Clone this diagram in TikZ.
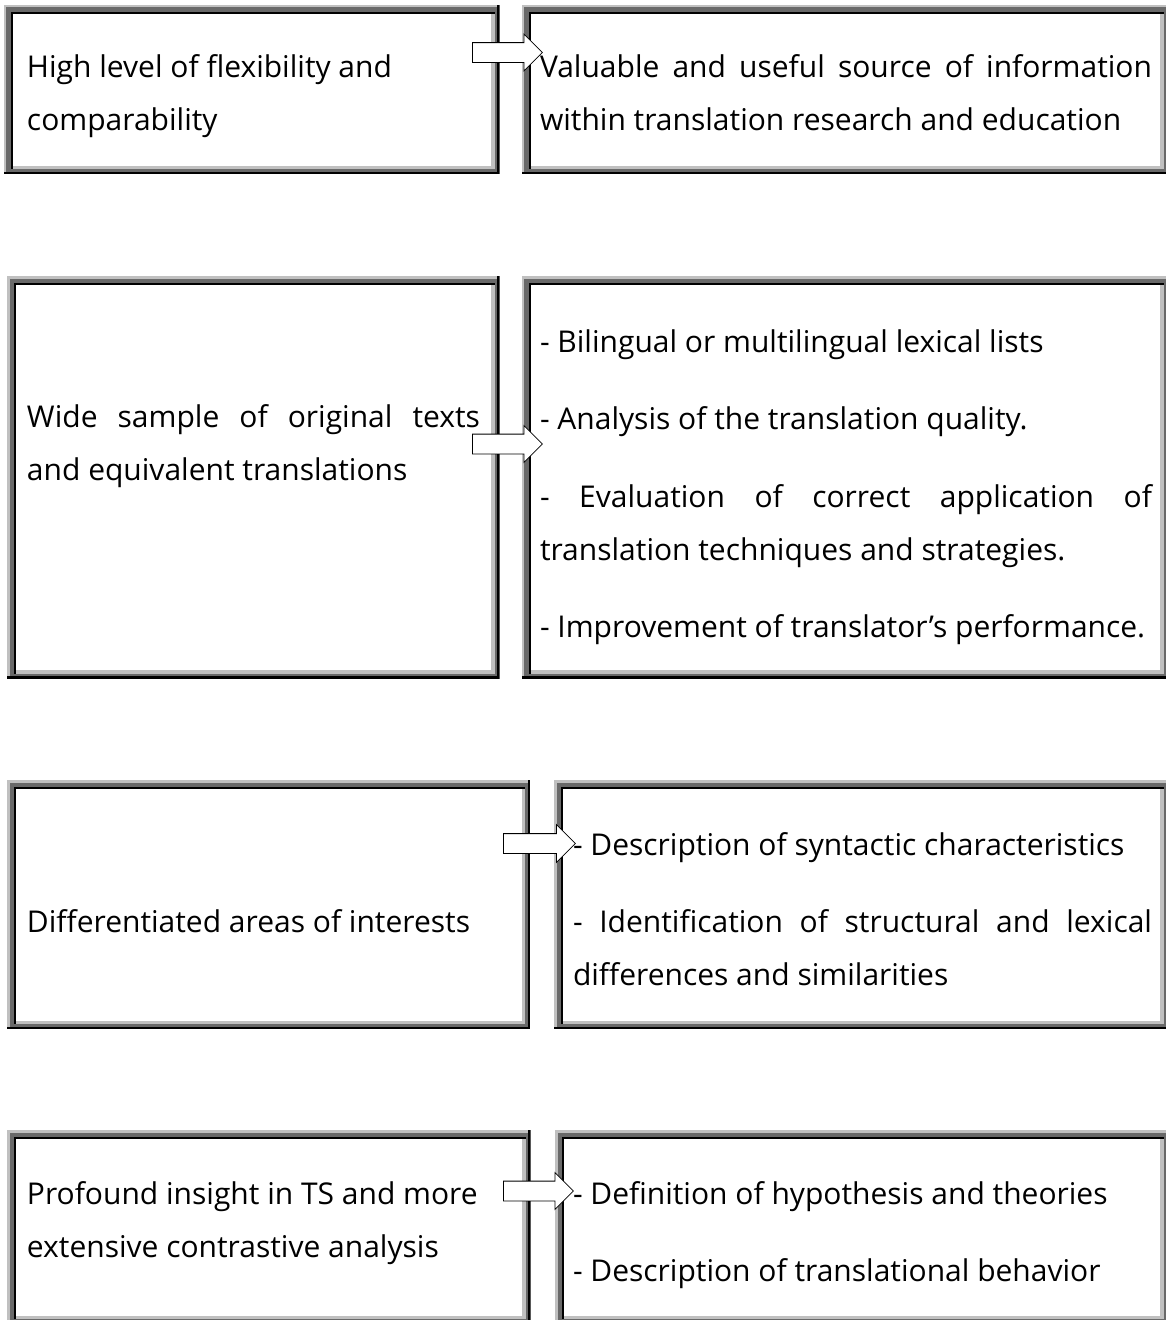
\documentclass[tikz,border=0pt]{standalone}
\usepackage{fontspec}
\setmainfont{Open Sans}
\usetikzlibrary{shapes.arrows}
\definecolor{rimlight}{RGB}{192,192,192}
\definecolor{rimdark}{RGB}{105,105,105}
\newcommand{\boxfont}{\fontsize{30}{53}\selectfont\parindent=0pt}
\tikzset{>=latex}

\begin{document}
\begin{tikzpicture}[x=1pt, y=-1pt]
	\tikzstyle{panel} = [rectangle, inner sep=0pt, outer sep=0pt, anchor=north west,
		path picture={
			\coordinate (nw) at (path picture bounding box.north west);
			\coordinate (se) at (path picture bounding box.south east);
			\fill[black] (nw) rectangle (se);
			\fill[rimlight] (nw) rectangle ([shift={(-2.5pt,2.5pt)}]se);
			\fill[rimdark] ([shift={(2.5pt,-2.5pt)}]nw) rectangle ([shift={(-2.5pt,2.5pt)}]se);
			\fill[black] ([shift={(7pt,-7pt)}]nw) rectangle ([shift={(-5pt,5pt)}]se);
			\fill[rimlight] ([shift={(9pt,-9pt)}]nw) rectangle ([shift={(-5pt,5pt)}]se);
			\fill[white] ([shift={(9pt,-9pt)}]nw) rectangle ([shift={(-8.5pt,8.5pt)}]se);
		}]
	\tikzstyle{txt} = [anchor=base west, inner sep=0pt, outer sep=0pt, align=justify, font=\boxfont]
	\tikzstyle{fatarrow} = [single arrow, draw=black, fill=white, line width=0.8pt, anchor=tail,
		inner xsep=0pt, inner ysep=9.5pt, minimum height=70pt, single arrow head extend=8.5pt]

	\useasboundingbox (0,0) rectangle (1166,1320);

%----------Перший ряд------------------------------
	\node[panel, minimum width=496pt, minimum height=169.5pt] (b1l) at (3.5,4.5) {};
	\node[panel, minimum width=646.8pt, minimum height=169.5pt] (b1r) at (521.7,4.5) {};
	\node[fatarrow] (a1) at (472,52.5) {};

	\node[txt, text width=460pt] (t1l) at (27,77) {High level of flexibility and\\comparability};
	\node[txt, text width=612pt] (t1r) at (540,77) {Valuable and useful source of information\linebreak within translation research and education};

%------------------------------------------------------------
	\node[panel, minimum width=492.5pt, minimum height=402.5pt] (b2l) at (7,276) {};
	\node[panel, minimum width=646.8pt, minimum height=402.5pt] (b2r) at (521.7,276) {};
	\node[fatarrow] (a2) at (472,444) {};

	\node[txt, text width=453pt] (t2l) at (27,427) {Wide sample of original texts\linebreak and equivalent translations};
	\node[txt, text width=612pt] (t2r) at (540,352) {- Bilingual or multilingual lexical lists\\[24.5pt]- Analysis of the translation quality.\\[24.5pt]- Evaluation of correct application of\linebreak translation techniques and strategies.\\[24.5pt]- Improvement of translator’s performance.};

%------------------------------------------------------------
	\node[panel, minimum width=523pt, minimum height=249pt] (b3l) at (7,780) {};
	\node[panel, minimum width=614.5pt, minimum height=249pt] (b3r) at (554,780) {};
	\node[fatarrow, minimum height=72pt, single arrow head extend=9pt] (a3) at (503,843.5) {};

	\node[txt, text width=490pt] (t3l) at (27,932) {Differentiated areas of interests};
	\node[txt, text width=579pt] (t3r) at (573,855) {- Description of syntactic characteristics\\[24.5pt]- Identification of structural and lexical\linebreak differences and similarities};

%------------------------------------------------------------
	\node[panel, minimum width=523.5pt, minimum height=194pt] (b4l) at (7,1130) {};
	\node[panel, minimum width=613.5pt, minimum height=194pt] (b4r) at (555,1130) {};
	\node[fatarrow] (a4) at (503,1191) {};

	\node[txt, text width=490pt] (t4l) at (27,1204) {Profound insight in TS and more\\extensive contrastive analysis};
	\node[txt, text width=579pt] (t4r) at (573,1204) {- Definition of hypothesis and theories\\[24.5pt]- Description of translational behavior};

\end{tikzpicture}
\end{document}
